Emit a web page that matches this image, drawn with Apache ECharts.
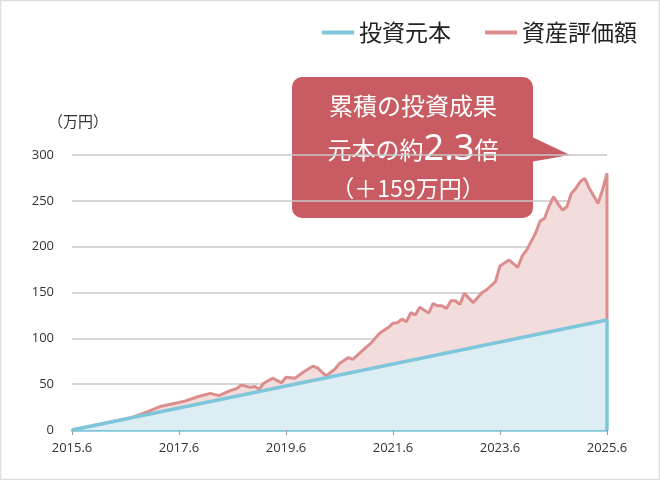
<!DOCTYPE html>
<html>
<head>
<meta charset="utf-8">
<script src="https://cdn.jsdelivr.net/npm/echarts@6/dist/echarts.min.js"></script>
<style>
  html, body { margin: 0; padding: 0; background: #fff; }
  #chart { width: 660px; height: 480px; }
</style>
</head>
<body>
<div id="chart"></div>
<script>
// months since 2015.6
var xTickLabels = ['2015.6', '2017.6', '2019.6', '2021.6', '2023.6', '2025.6'];
var principalMonths = [0, 120, 120];
var principalValues = [0, 120, 0];

var assetMonths = [0, 13, 17, 20, 25, 28, 31, 33, 35, 37, 38, 40, 41, 42, 43, 45, 47, 48, 50, 52,
  54, 55, 57, 59, 60, 62, 63, 65, 66, 67, 69, 71, 72, 73, 74, 75, 76, 77, 78, 80,
  81, 82, 83, 84, 85, 86, 87, 88, 90, 92, 93, 95, 96, 98, 100, 101, 102, 104, 105, 106,
  107, 108, 109, 110, 111, 112, 113, 114, 115, 116, 118, 119, 120, 120];
var assetValues = [0, 13, 20, 26, 31, 36, 40, 37.5, 42, 45.5, 49, 46.5, 47.5, 44.5, 51, 56.5, 51.5, 57.5, 56.5, 63.5,
  69.5, 68, 59, 66.5, 72.5, 79, 77, 86, 90.5, 94.5, 105.5, 112, 116.5, 117, 121, 118, 128, 125.5, 134, 127.5,
  138, 135.5, 135.5, 132.5, 141, 141, 137, 149, 139, 150, 153, 162, 179, 185.5, 177.5, 190, 196.5, 215, 228, 231,
  244, 254.5, 247, 240, 243.5, 258, 263.5, 271, 274.5, 264, 247, 262, 280, 120];

var blueLine = '#7fc6da';
var blueFill = '#dcedf3';
var redLine = '#dc8e8e';
var redFill = '#f3dcdc';
var boxColor = '#c95c62';

function pairs(xs, ys) {
  return xs.map(function (x, i) { return [x, ys[i]]; });
}

var chart = echarts.init(document.getElementById('chart'));
var option = {
  animation: false,
  textStyle: { fontFamily: '"Noto Sans CJK JP", "Noto Sans", sans-serif' },
  grid: { left: 72, right: 53, top: 155, bottom: 50 },
  legend: {
    data: ['投資元本', '資産評価額'],
    top: 16,
    right: 18,
    icon: 'rect',
    itemWidth: 32,
    itemHeight: 4,
    itemGap: 34,
    textStyle: { fontSize: 23, color: '#222', fontFamily: '"Noto Sans CJK JP", sans-serif' }
  },
  xAxis: {
    type: 'value',
    min: 0,
    max: 120,
    interval: 24,
    axisLine: { lineStyle: { color: blueLine, width: 2.5 } },
    axisTick: { show: true, length: 5, lineStyle: { color: '#999' } },
    splitLine: { show: false },
    axisLabel: {
      margin: 12,
      fontSize: 13,
      color: '#333',
      fontFamily: '"Open Sans", sans-serif',
      formatter: function (v) { return xTickLabels[Math.round(v / 24)]; }
    }
  },
  yAxis: {
    type: 'value',
    min: 0,
    max: 300,
    interval: 50,
    axisLine: { show: false },
    axisTick: { show: false },
    axisLabel: { margin: 18, fontSize: 13, color: '#333', fontFamily: '"Open Sans", sans-serif' },
    splitLine: { lineStyle: { color: '#c8c8c8', width: 1.5 } }
  },
  graphic: [
    // thin frame round the picture
    {
      type: 'rect',
      silent: true,
      shape: { x: 0.5, y: 0.5, width: 659, height: 479 },
      style: { fill: 'none', stroke: '#dddddd', lineWidth: 1.5 }
    },
    {
      type: 'text',
      left: 48,
      top: 114,
      style: { text: '（万円）', fontSize: 15, fill: '#333', fontFamily: '"Noto Sans CJK JP", sans-serif' }
    },
    {
      type: 'group',
      z: 100,
      children: [
        {
          type: 'polygon',
          shape: { points: [[530, 136], [570, 155], [530, 162]] },
          style: { fill: boxColor }
        },
        {
          type: 'rect',
          shape: { x: 292, y: 77, width: 241, height: 141, r: 10 },
          style: { fill: boxColor }
        },
        {
          type: 'text',
          x: 413, y: 106,
          style: {
            text: '累積の投資成果', fill: '#fff', fontSize: 24,
            align: 'center', verticalAlign: 'middle',
            fontFamily: '"Noto Sans CJK JP", sans-serif'
          }
        },
        {
          type: 'text',
          x: 413, y: 150,
          style: {
            text: '{a|元本の約}{b|2.3}{a|倍}',
            align: 'center', verticalAlign: 'middle',
            rich: {
              a: { fill: '#fff', fontSize: 24, fontFamily: '"Noto Sans CJK JP", sans-serif' },
              b: { fill: '#fff', fontSize: 36, fontFamily: '"Noto Sans", sans-serif' }
            }
          }
        },
        {
          type: 'text',
          x: 408, y: 188,
          style: {
            text: '（＋159万円）', fill: '#fff', fontSize: 23,
            align: 'center', verticalAlign: 'middle',
            fontFamily: '"Noto Sans CJK JP", sans-serif'
          }
        }
      ]
    }
  ],
  series: [
    {
      name: '資産評価額',
      type: 'line',
      data: pairs(assetMonths, assetValues),
      showSymbol: false,
      color: redLine,
      lineStyle: { color: redLine, width: 3 },
      areaStyle: { color: redFill, opacity: 1 },
      z: 2
    },
    {
      name: '投資元本',
      type: 'line',
      data: pairs(principalMonths, principalValues),
      showSymbol: false,
      color: blueLine,
      lineStyle: { color: blueLine, width: 3.5 },
      areaStyle: { color: blueFill, opacity: 1 },
      z: 3
    }
  ]
};
chart.setOption(option);
</script>
</body>
</html>
